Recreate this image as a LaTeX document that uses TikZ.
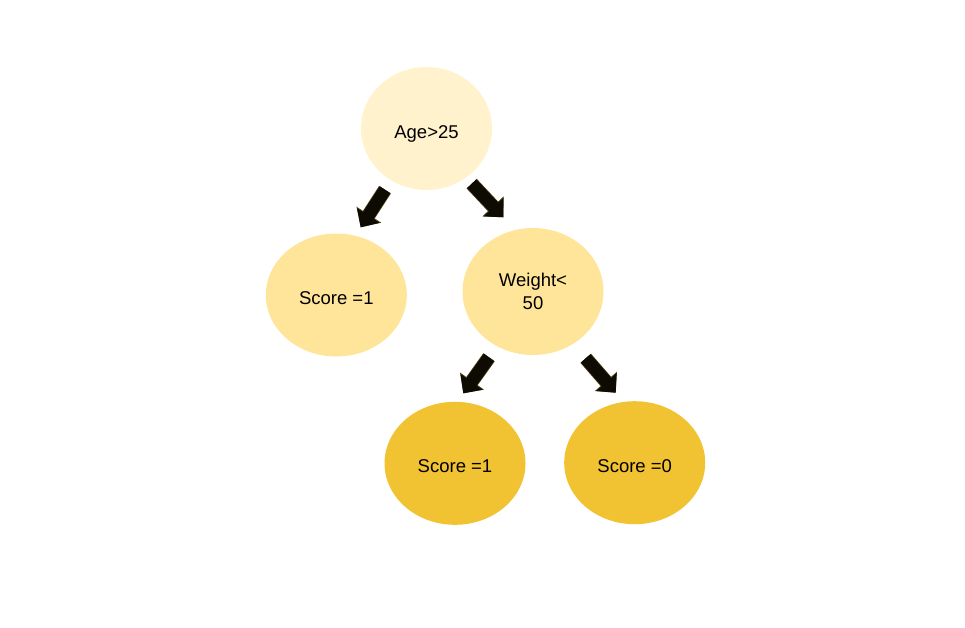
\documentclass[tikz,border=0pt]{standalone}
\usepackage{fontspec}
\setmainfont{Liberation Sans}
\usetikzlibrary{shapes.geometric,arrows.meta}
\definecolor{pale}{HTML}{FFF2CC}
\definecolor{mid}{HTML}{FFE599}
\definecolor{deep}{HTML}{F1C232}
\definecolor{arrowfill}{HTML}{0E0B03}
\definecolor{arrowedge}{HTML}{4A3E14}
\tikzset{
  oval/.style={ellipse, inner sep=0pt, minimum width=141pt, minimum height=123pt,
    font=\fontsize{18.5pt}{22.7pt}\selectfont, align=center, text=black},
  oneline/.style={text height=19pt, text depth=0pt},
  blockarrow/.style={draw=arrowfill, line width=12.5pt,
    -{Triangle[width=26pt,length=14pt]},
    preaction={draw=arrowedge, line width=14pt, -{Triangle[width=28.5pt,length=15pt]}}}
}
\begin{document}
\begin{tikzpicture}[x=1pt,y=-1pt]
\useasboundingbox (0,0) rectangle (965,627);
\node[oval, oneline, fill=pale, minimum width=131pt] (age) at (426.5,128.5) {Age>25};
\node[oval, oneline, fill=mid] (s1) at (336.3,295) {Score =1};
\node[oval, fill=mid, minimum height=127pt] (wt) at (533,291.5) {Weight<\\50};
\node[oval, oneline, fill=deep] (s2) at (455,463.3) {Score =1};
\node[oval, oneline, fill=deep] (s3) at (634.7,462.7) {Score =0};
\coordinate (a1s) at (385,189.7);
\coordinate (a1e) at (360.7,227.3);
\coordinate (a2s) at (471.7,183.7);
\coordinate (a2e) at (503.3,217.3);
\coordinate (a3s) at (489,357.3);
\coordinate (a3e) at (463.3,393.3);
\coordinate (a4s) at (585.7,358.3);
\coordinate (a4e) at (615.7,392.7);
\draw[blockarrow] (a1s) -- (a1e);
\draw[blockarrow] (a2s) -- (a2e);
\draw[blockarrow] (a3s) -- (a3e);
\draw[blockarrow] (a4s) -- (a4e);
\end{tikzpicture}
\end{document}
